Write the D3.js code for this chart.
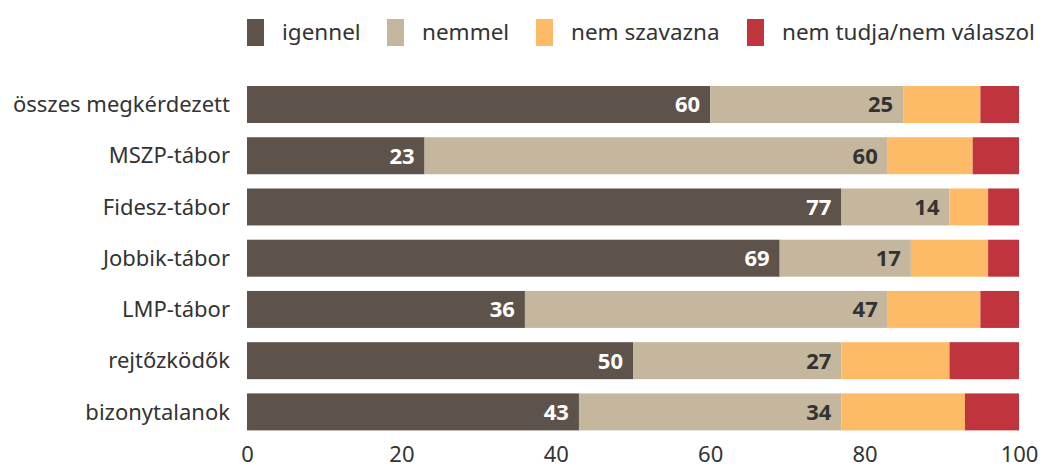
<!DOCTYPE html>
<html lang="hu">
<head>
  <meta charset="UTF-8">
  <title>Szavazási szándék</title>
  <script src="https://d3js.org/d3.v7.min.js"></script>
  <style>
    body { margin: 0; background: #fff; font-family: "Noto Sans", sans-serif; }
    .axis path, .axis line { display: none; }
    .axis text { font-size: 22px; fill: #333; font-family: "Noto Sans", sans-serif; }
    .cat { font-size: 22px; fill: #333; }
    .legend text { font-size: 22.5px; fill: #333; }
    .val { font-size: 22px; font-weight: bold; }
  </style>
</head>
<body>
<div id="chart"></div>
<script>
  // adatok
  const categories = ["összes megkérdezett", "MSZP-tábor", "Fidesz-tábor", "Jobbik-tábor",
                      "LMP-tábor", "rejtőzködők", "bizonytalanok"];
  const seriesNames = ["igennel", "nemmel", "nem szavazna", "nem tudja/nem válaszol"];
  const igennel     = [60, 23, 77, 69, 36, 50, 43];
  const nemmel      = [25, 60, 14, 17, 47, 27, 34];
  const nemSzavazna = [10, 11, 5, 10, 12, 14, 16];
  const nemTudja    = [5, 6, 4, 4, 5, 9, 7];
  const xTicks = [0, 20, 40, 60, 80, 100];
  const colors = ["#5e534b", "#c5b79d", "#fdbb68", "#c0343d"];

  const width = 1043, height = 468;
  const svg = d3.select("#chart").append("svg")
      .attr("width", width).attr("height", height);

  const x = d3.scaleLinear().domain([0, 100]).range([247, 1019]);
  const y = d3.scaleBand().domain(categories)
      .range([78.9, 78.9 + 7 * 51.23])
      .paddingInner(0.278).paddingOuter(0.139);

  const table = categories.map((c, i) => ({
    cat: c, "igennel": igennel[i], "nemmel": nemmel[i],
    "nem szavazna": nemSzavazna[i], "nem tudja/nem válaszol": nemTudja[i]
  }));
  const stacked = d3.stack().keys(seriesNames)(table);

  // sávok
  svg.selectAll("g.layer")
    .data(stacked)
    .join("g")
      .attr("class", "layer")
      .attr("fill", (d, i) => colors[i])
    .selectAll("rect")
    .data(d => d)
    .join("rect")
      .attr("x", d => x(d[0]))
      .attr("y", d => y(d.data.cat))
      .attr("width", d => x(d[1]) - x(d[0]))
      .attr("height", y.bandwidth());

  // értékcímkék az első két sorozatra
  [0, 1].forEach(k => {
    svg.append("g").selectAll("text")
      .data(stacked[k])
      .join("text")
        .attr("class", "val")
        .attr("x", d => x(d[1]) - 10)
        .attr("y", d => y(d.data.cat) + y.bandwidth() / 2)
        .attr("dy", "0.36em")
        .attr("text-anchor", "end")
        .attr("fill", k === 0 ? "#fff" : "#333")
        .text(d => d[1] - d[0]);
  });

  // kategória címkék
  svg.append("g").selectAll("text")
    .data(categories)
    .join("text")
      .attr("class", "cat")
      .attr("x", 230)
      .attr("y", d => y(d) + y.bandwidth() / 2)
      .attr("dy", "0.35em")
      .attr("text-anchor", "end")
      .text(d => d);

  // x tengely
  svg.append("g")
      .attr("class", "axis")
      .attr("transform", "translate(0,442)")
      .call(d3.axisBottom(x).tickValues(xTicks).tickSize(0).tickPadding(4));

  // jelmagyarázat
  const legendX = [247, 387, 536, 747];
  const legend = svg.append("g").attr("class", "legend")
    .selectAll("g")
    .data(seriesNames)
    .join("g")
      .attr("transform", (d, i) => `translate(${legendX[i]},19)`);
  legend.append("rect")
      .attr("width", 17).attr("height", 27)
      .attr("fill", (d, i) => colors[i]);
  legend.append("text")
      .attr("x", 35).attr("y", 13.5).attr("dy", "0.35em")
      .text(d => d);
</script>
</body>
</html>
